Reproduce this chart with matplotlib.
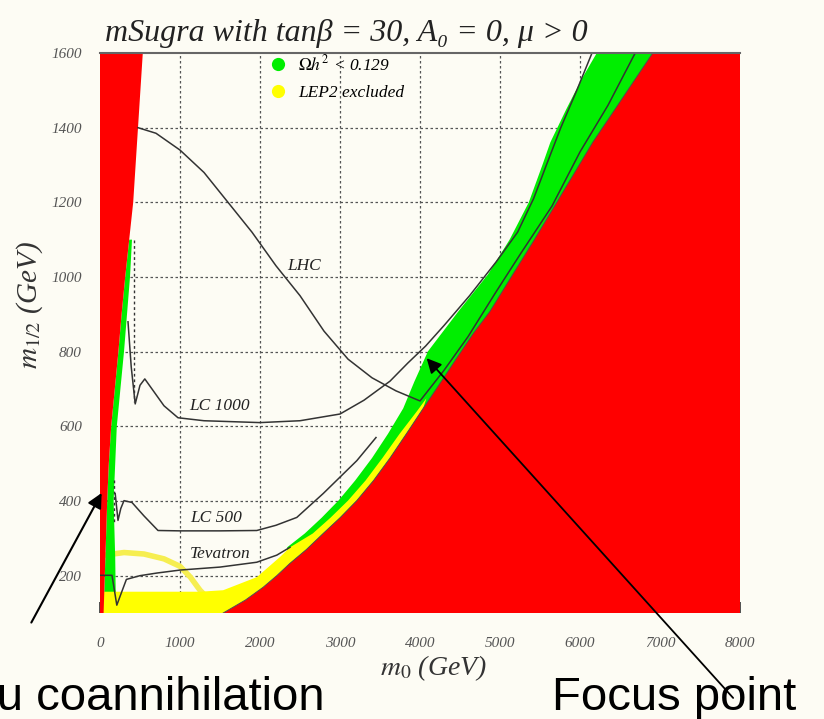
import numpy as np
import matplotlib
matplotlib.use("Agg")
import matplotlib.pyplot as plt
from matplotlib.lines import Line2D

plt.rcParams['mathtext.fontset'] = 'stix'
plt.rcParams['font.family'] = ['Liberation Serif', 'DejaVu Serif']

# ---------------- data ----------------
x_ticks = [0, 1000, 2000, 3000, 4000, 5000, 6000, 7000, 8000]
y_ticks = [200, 400, 600, 800, 1000, 1200, 1400, 1600]

# stau-LSP excluded region (left, red): right edge
stau_m12 = [100, 200, 300, 400, 500, 600, 700, 800, 900, 1000, 1100, 1200, 1300, 1400, 1500, 1600]
stau_m0 = [45, 60, 75, 90, 110, 140, 185, 230, 270, 315, 365, 415, 445, 475, 505, 535]

# stau coannihilation green strip: right edge
sg_m12 = [100, 250, 400, 600, 800, 1000, 1100]
sg_m0 = [200, 190, 170, 210, 300, 375, 400]

# no-EWSB excluded region (right, red): left edge
ew_m12 = [100, 135, 169, 200, 233, 270, 313, 355, 401, 455, 515, 580, 648, 715, 783, 850, 908, 1007, 1100, 1200, 1300, 1361, 1450, 1530, 1600]
ew_m0 = [1540, 1820, 2040, 2210, 2375, 2580, 2790, 3000, 3210, 3420, 3625, 3830, 4040, 4250, 4460, 4670, 4875, 5160, 5430, 5710, 5990, 6160, 6440, 6690, 6910]

# focus-point green band: outer edge
fp_m12 = [276, 313, 355, 401, 455, 515, 580, 648, 720, 801, 908, 1007, 1100, 1200, 1300, 1361, 1450, 1530, 1600]
fp_m0 = [2340, 2560, 2770, 2980, 3190, 3400, 3600, 3790, 3930, 4100, 4480, 4850, 5120, 5360, 5530, 5630, 5830, 6020, 6210]

# LEP2 excluded (yellow): outer edge
lep_m12 = [157, 157, 161, 196, 250, 276, 313, 355, 401, 455, 515, 580, 640, 675]
lep_m0 = [0, 1250, 1540, 1960, 2250, 2375, 2660, 2880, 3100, 3320, 3530, 3745, 3960, 4080]

# yellow contour line
arc_m0 = [60, 300, 550, 800, 1000, 1130, 1250, 1300]
arc_m12 = [255, 262, 258, 245, 225, 196, 161, 150]

# reach contours
lhc_m0 = [475, 700, 1000, 1300, 1600, 1900, 2200, 2500, 2800, 3100, 3400, 3700, 4000,
          4300, 4600, 4950, 5250, 5650, 6000, 6350, 6690]
lhc_m12 = [1400, 1385, 1340, 1280, 1200, 1120, 1030, 950, 855, 780, 730, 695, 668,
           750, 840, 960, 1060, 1190, 1335, 1460, 1600]

lc1000_m0 = [350, 390, 440, 500, 560, 650, 800, 975, 1300, 2000, 2500, 3000, 3300, 3625,
             3850, 4070, 4300, 4620, 4950, 5220, 5420, 5580, 5760, 5960, 6150]
lc1000_m12 = [880, 760, 660, 710, 727, 700, 655, 623, 615, 610, 615, 633, 670, 721,
              770, 815, 870, 950, 1040, 1120, 1210, 1300, 1400, 1500, 1600]
lc1000_dot_m0 = [430, 430]
lc1000_dot_m12 = [1100, 665]

lc500_m0 = [190, 225, 260, 300, 400, 550, 725, 1000, 1500, 1960, 2200, 2460, 2790, 3210, 3450]
lc500_m12 = [420, 348, 380, 401, 396, 360, 321, 320, 320, 321, 335, 356, 420, 508, 570]
lc500_dot_m0 = [175, 175]
lc500_dot_m12 = [455, 345]

tev_m0 = [0, 150, 210, 260, 330, 500, 710, 1000, 1500, 1960, 2210, 2375]
tev_m12 = [201, 201, 121, 150, 190, 200, 207, 215, 223, 236, 255, 276]

labels = ["LHC", "LC 1000", "LC 500", "Tevatron"]
label_m0 = [2550, 1500, 1450, 1500]
label_m12 = [1030, 655, 355, 258]

legend_labels = [r"$\Omega h^2$ < 0.129", "LEP2 excluded"]
title = "mSugra with tanβ = 30, A₀ = 0, μ > 0"

# ---------------- figure ----------------
bg = '#fdfcf4'
RED = '#ff0000'
GREEN = '#00ee00'
YELLOW = '#ffff00'

fig = plt.figure(figsize=(8.24, 7.19), dpi=100, facecolor=bg)
ax = fig.add_axes([100/824, (719-613)/719, 640/824, 560/719])
ax.set_facecolor(bg)
ax.set_xlim(0, 8000)
ax.set_ylim(100, 1600)

# grid (below the filled regions)
for xv in x_ticks[1:-1]:
    ax.axvline(xv, color='#555555', lw=0.9, ls=(0, (2, 2)), zorder=0.5)
for yv in y_ticks[:-1]:
    ax.axhline(yv, color='#555555', lw=0.9, ls=(0, (2, 2)), zorder=0.5)

# yellow contour line
ax.plot(arc_m0, arc_m12, color='#f6ee50', lw=4, zorder=1, solid_capstyle='round')

# focus point green band
ew_m0a = np.array(ew_m0)
ew_m12a = np.array(ew_m12)
gx = list(fp_m0) + [8000, 8000, fp_m0[0]]
gy = list(fp_m12) + [1600, 100, 100]
ax.fill(gx, gy, color=GREEN, lw=0, zorder=2)

# LEP2 yellow
mask = ew_m12a <= lep_m12[-1]
yx = list(lep_m0) + list(ew_m0a[mask][::-1]) + [0]
yy = list(lep_m12) + list(ew_m12a[mask][::-1]) + [100]
ax.fill(yx, yy, color=YELLOW, lw=0, zorder=3)

# right red region
rx = list(ew_m0) + [8000, 8000]
ry = list(ew_m12) + [1600, 100]
ax.fill(rx, ry, color=RED, lw=0, zorder=4)
ax.plot(ew_m0, ew_m12, color='#505050', lw=0.7, zorder=6)

# stau green strip
stau_m0a = np.array(stau_m0)
stau_m12a = np.array(stau_m12)
m2 = stau_m12a <= sg_m12[-1]
sx = list(stau_m0a[m2]) + list(sg_m0[::-1])
sy = list(stau_m12a[m2]) + list(sg_m12[::-1])
ax.fill(sx, sy, color=GREEN, lw=0, zorder=2)

# stau red
lx = [0] + list(stau_m0) + [0]
ly = [100] + list(stau_m12) + [1600]
ax.fill(lx, ly, color=RED, lw=0, zorder=4)

# reach contours
lk = dict(color='#333333', lw=1.1, zorder=7)
ax.plot(lhc_m0, lhc_m12, **lk)
ax.plot(lc1000_m0, lc1000_m12, **lk)
ax.plot(lc500_m0, lc500_m12, **lk)
ax.plot(tev_m0, tev_m12, **lk)
ax.plot(lc1000_dot_m0, lc1000_dot_m12, color='#333333', lw=1.0, ls=(0, (2, 2)), zorder=7)
ax.plot(lc500_dot_m0, lc500_dot_m12, color='#333333', lw=1.0, ls=(0, (2, 2)), zorder=7)

for t, xm, ym in zip(labels, label_m0, label_m12):
    ax.text(xm, ym, t, fontsize=12.5, style='italic', color='#222222',
            ha='center', va='center', zorder=8)

# ticks / spines
ax.set_xticks(x_ticks)
ax.set_yticks(y_ticks)
ax.set_xticklabels([str(v) for v in x_ticks])
ax.set_yticklabels([str(v) for v in y_ticks])
ax.tick_params(direction='in', length=8, width=1.2, color='#333333',
               labelsize=11, labelcolor='#555555')
ax.tick_params(axis='x', pad=17)
ax.tick_params(axis='y', pad=13)
for lab in ax.get_xticklabels() + ax.get_yticklabels():
    lab.set_fontstyle('italic')
for s in ['left', 'right', 'bottom']:
    ax.spines[s].set_visible(False)
ax.spines['top'].set_color('#666666')
ax.spines['top'].set_linewidth(1.5)
ax.spines['top'].set_zorder(9)

fig.text(433/824, 1-668/719, r"$m_0$ (GeV)", fontsize=20, color='#333333',
         style='italic', ha='center', va='center')
fig.text(30/824, 1-305/719, r"$m_{1/2}$ (GeV)", fontsize=21, color='#333333',
         style='italic', ha='center', va='center', rotation=90)

fig.text(105/824, 1-33/719, title, fontsize=23, style='italic',
         color='#222222', ha='left', va='center')

handles = [Line2D([], [], ls='none', marker='o', ms=9.5, mfc=GREEN, mec='none'),
           Line2D([], [], ls='none', marker='o', ms=9.5, mfc=YELLOW, mec='none')]
ax.legend(handles, legend_labels, loc='upper left', bbox_to_anchor=(0.254, 1.01),
          frameon=False, prop={'style': 'italic', 'size': 12.5}, handletextpad=0.65,
          labelspacing=0.6, handlelength=1.0, borderaxespad=0.0, borderpad=0.4)

# annotations
ax.annotate('', xy=(37, 428), xycoords='data', xytext=(30, 719-625), textcoords='figure pixels',
            arrowprops=dict(arrowstyle='-|>', color='black', lw=1.5, mutation_scale=22),
            annotation_clip=False, zorder=10)
ax.annotate('', xy=(4060, 788), xycoords='data', xytext=(735, 719-700), textcoords='figure pixels',
            arrowprops=dict(arrowstyle='-|>', color='black', lw=1.3, mutation_scale=22),
            annotation_clip=False, zorder=10)

fig.text(325/824, 1-710/719, "Stau coannihilation", family='Liberation Sans',
         fontsize=34, ha='right', va='baseline', color='black')
fig.text(552/824, 1-710/719, "Focus point", family='Liberation Sans',
         fontsize=34, ha='left', va='baseline', color='black')

fig.savefig('out.png', dpi=100, facecolor=bg)
